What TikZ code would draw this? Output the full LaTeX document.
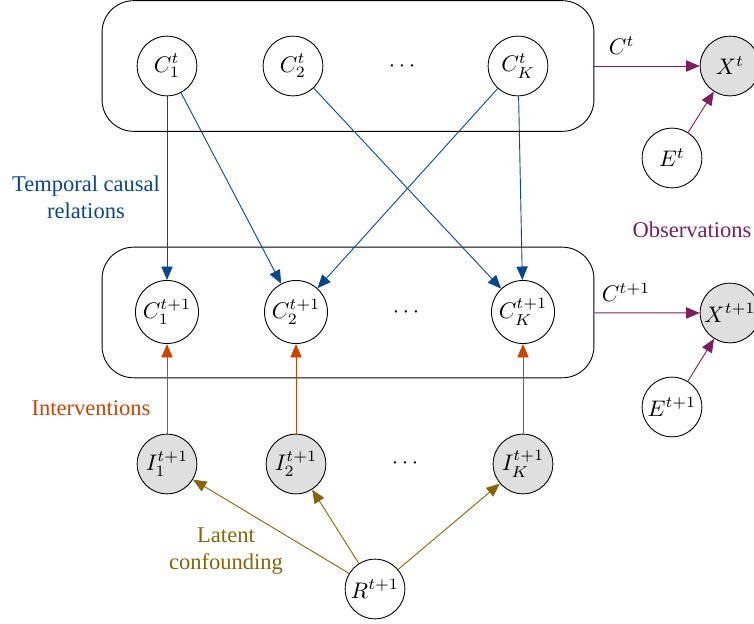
\documentclass[tikz,border=0pt]{standalone}
\usepackage[no-math]{fontspec}
\setmainfont{Liberation Serif}
\usetikzlibrary{arrows.meta}
\definecolor{tempblue}{RGB}{10,70,140}
\definecolor{intorange}{RGB}{204,68,0}
\definecolor{confolive}{RGB}{135,100,10}
\definecolor{obspurple}{RGB}{125,30,95}
\begin{document}
\begin{tikzpicture}[x=0.444pt, y=-0.444pt, >={Triangle[length=6pt,width=5pt]},
  slice/.style={draw, rounded corners=14pt, minimum width=218.4pt, minimum height=58pt},
  temp/.style={->, tempblue},
  intv/.style={->, intorange},
  conf/.style={->, confolive},
  obsv/.style={->, obspurple}]
\useasboundingbox (0,0) rectangle (754,624);

\node[slice] (boxt) at (348,66) {};
\node[slice] (boxn) at (348,312.5) {};

\node (dt) at (402,66) {$\cdots$};
\node (dn) at (406,312) {$\cdots$};
\node (di) at (405,463) {$\cdots$};

  \begin{scope}[every node/.style={circle, draw, minimum size=26.5pt, inner sep=0pt}]
  \node (a1) at (167,66) {$C^t_1$};
  \node (a2) at (293,66) {$C^t_2$};
  \node (ak) at (518,66) {$C^t_K$};

  \node[minimum size=28pt] (b1) at (167,312) {$C^{t+1}_1$};
  \node[minimum size=28pt] (b2) at (296,312) {$C^{t+1}_2$};
  \node[minimum size=28pt] (bk) at (523,312) {$C^{t+1}_K$};

  \node[fill=gray!25] (i1) at (167,464) {$I^{t+1}_1$};
  \node[fill=gray!25] (i2) at (296,464) {$I^{t+1}_2$};
  \node[fill=gray!25] (ik) at (523,464) {$I^{t+1}_K$};

  \node (r) at (375,589) {$R^{t+1}$};

  \node[fill=gray!25] (xt) at (730,66) {$X^t$};
  \node (et) at (672,158) {$E^t$};
  \node[fill=gray!25] (xn) at (730,313) {$X^{t+1}$};
  \node (en) at (672,407) {$E^{t+1}$};
  \end{scope}

\draw[temp] (a1) -- (b1);
\draw[temp] (a1) -- (b2);
\draw[temp] (a2) -- (bk);
\draw[temp] (ak) -- (b2);
\draw[temp] (ak) -- (bk);

\draw[intv] (i1) -- (b1);
\draw[intv] (i2) -- (b2);
\draw[intv] (ik) -- (bk);

\draw[conf] (r) -- (i1);
\draw[conf] (r) -- (i2);
\draw[conf] (r) -- (ik);

\draw[obsv] (boxt) -- node[above, pos=0.26, yshift=1.5pt, black] (lt) {$C^t$} (xt);
\draw[obsv] (et) -- (xt);
\draw[obsv] (boxn) -- node[above, pos=0.3, yshift=1.5pt, black] (ln) {$C^{t+1}$} (xn);
\draw[obsv] (en) -- (xn);

\node[tempblue, align=center] (tcr) at (86,197) {Temporal causal\\relations};
\node[intorange] (int) at (91,408) {Interventions};
\node[confolive, align=center] (lc) at (226,551) {Latent\\confounding};
\node[obspurple] (obs) at (692,230) {Observations};
\end{tikzpicture}
\end{document}
